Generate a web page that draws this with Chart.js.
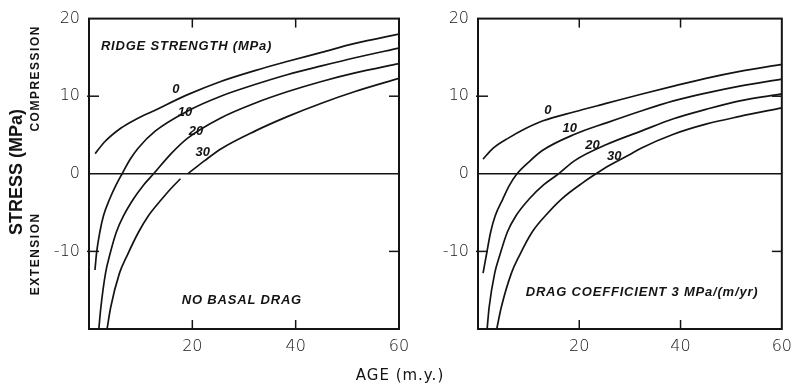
<!DOCTYPE html>
<html>
<head>
<meta charset="utf-8">
<script src="https://cdn.jsdelivr.net/npm/chart.js@4.4.0/dist/chart.umd.min.js"></script>
<style>
  body { margin: 0; background: #fff; }
  #wrap { position: relative; width: 800px; height: 386px; }
  #wrap canvas { position: absolute; left: 0; top: 0; }
</style>
</head>
<body>
<div id="wrap">
  <canvas id="noDrag" width="800" height="386"></canvas>
  <canvas id="withDrag" width="800" height="386"></canvas>
</div>
<script>
// ridge strength of each curve (MPa)
const ridgeStrengths = ["0", "10", "20", "30"];

// axis ticks
const ageTicks = [0, 20, 40, 60];
const stressTicks = [-20, -10, 0, 10, 20];
const innerAgeTicks = [20, 40];
const innerStressTicks = [-10, 10];

// left panel: no basal drag  (age in m.y., stress in MPa)
const noDragAge0 = [1.2, 3, 6.2, 9, 12.8, 19.1, 25.5, 32.1, 38.5, 45, 51.5, 60];
const noDragStress0 = [2.6, 4.1, 5.9, 7.0, 8.2, 10.2, 11.9, 13.3, 14.5, 15.65, 16.8, 18.0];
const noDragAge10 = [1.15, 1.5, 2.1, 2.8, 4.0, 5.2, 6.4, 8, 9.5, 12.8, 19.1, 25.5, 32.1, 38.5, 45, 51.5, 60];
const noDragStress10 = [-12.4, -10, -7.5, -5.4, -3.25, -1.5, 0, 1.9, 3.3, 5.5, 8.1, 10.0, 11.5, 12.8, 13.9, 14.95, 16.2];
const noDragAge20 = [1.9, 2.3, 3.2, 4.0, 5.3, 6.7, 8.6, 10.5, 12.5, 15.9, 19.1, 25.5, 32.1, 38.5, 45, 51.5, 60];
const noDragStress20 = [-20, -17.2, -12.8, -10.5, -7.5, -5.4, -3.25, -1.5, 0, 2.6, 4.6, 7.2, 9.1, 10.6, 11.9, 13.0, 14.2];
const noDragAge30 = [3.5, 4.2, 5.9, 7.4, 9.6, 11.5, 14.1, 16, 17.7, 18.4, 19.1, 22.4, 25.5, 32.1, 38.5, 45, 51.5, 60];
const noDragStress30 = [-20, -17.2, -12.8, -10.5, -7.5, -5.4, -3.25, -1.8, -0.64, null, 0, 1.7, 3.2, 5.5, 7.4, 9.1, 10.6, 12.3];

// right panel: drag coefficient 3 MPa/(m/yr)
const withDragAge0 = [1, 3, 6, 9.3, 12.7, 19.1, 25.5, 32.2, 38.6, 45, 51.7, 60];
const withDragStress0 = [1.9, 3.3, 4.6, 5.8, 6.8, 8.0, 9.1, 10.25, 11.3, 12.3, 13.2, 14.1];
const withDragAge10 = [1.0, 1.7, 2.5, 3.4, 4.9, 6.2, 7.7, 10, 12.7, 19.1, 25.5, 32.2, 38.6, 45, 51.7, 60];
const withDragStress10 = [-12.8, -10.3, -7.5, -5.4, -3.25, -1.5, 0, 1.5, 3.0, 5.1, 6.6, 8.1, 9.4, 10.4, 11.3, 12.2];
const withDragAge20 = [1.8, 2.2, 3.3, 4.3, 5.8, 7.5, 10.1, 13, 15.9, 19.1, 25.5, 32.2, 38.6, 45, 51.7, 60];
const withDragStress20 = [-20, -17.2, -12.8, -10.5, -7.5, -5.4, -3.25, -1.4, 0, 1.7, 3.8, 5.5, 7.1, 8.3, 9.4, 10.3];
const withDragAge30 = [3.7, 4.6, 6.6, 8.2, 10.7, 13.3, 16.5, 20.8, 23.3, 26, 30, 32.2, 38.6, 45, 51.7, 60];
const withDragStress30 = [-20, -17.2, -12.8, -10.5, -7.5, -5.4, -3.25, -1.1, 0, 1.1, 2.5, 3.3, 5.1, 6.4, 7.4, 8.5];

const ink = "#141414";
const tickFont = { family: "'DejaVu Sans', sans-serif", size: 16, weight: "200" };

function curve(ages, stresses) {
  return {
    data: ages.map((a, i) => ({ x: a, y: stresses[i] })),
    borderColor: ink,
    borderWidth: 1.7,
    pointRadius: 0,
    fill: false,
    spanGaps: false,
    cubicInterpolationMode: "monotone",
  };
}

function line(ctx, x1, y1, x2, y2) {
  ctx.beginPath();
  ctx.moveTo(x1, y1);
  ctx.lineTo(x2, y2);
  ctx.stroke();
}

function rotatedText(ctx, text, cx, cy) {
  ctx.save();
  ctx.translate(cx, cy);
  ctx.rotate(-Math.PI / 2);
  ctx.fillText(text, 0, 0);
  ctx.restore();
}

// frame, zero line, inward ticks and the lettering
const panelDecor = {
  id: "panelDecor",
  afterDraw(chart, args, opts) {
    const { ctx, chartArea: a, scales: { x, y } } = chart;
    ctx.save();
    ctx.strokeStyle = ink;
    ctx.fillStyle = ink;

    ctx.lineWidth = 2;
    ctx.strokeRect(a.left, a.top, a.right - a.left, a.bottom - a.top);

    ctx.lineWidth = 1.5;
    const y0 = y.getPixelForValue(0);
    line(ctx, a.left, y0, a.right, y0);

    innerAgeTicks.forEach((v) => {
      const px = x.getPixelForValue(v);
      line(ctx, px, a.top, px, a.top + 9);
      line(ctx, px, a.bottom, px, a.bottom - 9);
    });
    innerStressTicks.forEach((v) => {
      const py = y.getPixelForValue(v);
      line(ctx, a.left - 2, py, a.left + 10, py);
      line(ctx, a.right, py, a.right - 10, py);
    });

    ctx.textBaseline = "middle";
    ctx.font = "italic bold 13px 'Liberation Sans', sans-serif";
    ctx.textAlign = "center";
    opts.curveLabels.forEach((p, i) => {
      ctx.fillText(ridgeStrengths[i], x.getPixelForValue(p[0]), y.getPixelForValue(p[1]));
    });

    ctx.letterSpacing = "0.8px";
    opts.notes.forEach((n) => {
      ctx.textAlign = n.align;
      ctx.fillText(n.text, x.getPixelForValue(n.at[0]), y.getPixelForValue(n.at[1]));
    });

    if (opts.axisTitles) {
      ctx.textAlign = "center";
      ctx.letterSpacing = "0px";
      ctx.font = "bold 18px 'Liberation Sans', sans-serif";
      rotatedText(ctx, "STRESS (MPa)", 17, 172);
      ctx.letterSpacing = "1.5px";
      ctx.font = "bold 12px 'Liberation Sans', sans-serif";
      rotatedText(ctx, "COMPRESSION", 36, y.getPixelForValue(12.3));
      rotatedText(ctx, "EXTENSION", 36, y.getPixelForValue(-10.3));
      ctx.letterSpacing = "1px";
      ctx.font = "15px 'DejaVu Sans', sans-serif";
      ctx.fillText("AGE (m.y.)", 400, 376);
    }
    ctx.restore();
  },
};

function panelOptions(padLeft, padRight, yWidth, decor) {
  return {
    responsive: false,
    animation: false,
    devicePixelRatio: 1,
    layout: { padding: { left: padLeft, right: padRight, top: 17, bottom: 0 } },
    plugins: {
      legend: { display: false },
      tooltip: { enabled: false },
      panelDecor: decor,
    },
    scales: {
      x: {
        type: "linear",
        min: 0,
        max: 60,
        afterBuildTicks: (s) => { s.ticks = ageTicks.map((v) => ({ value: v })); },
        afterFit: (s) => { s.height = 57; },
        grid: { display: false, drawTicks: false },
        border: { display: false },
        ticks: {
          color: ink, font: tickFont, padding: 8, maxRotation: 0, autoSkip: false,
          callback: (v) => (v === 0 ? "" : v),
        },
      },
      y: {
        type: "linear",
        min: -20,
        max: 20,
        afterBuildTicks: (s) => { s.ticks = stressTicks.map((v) => ({ value: v })); },
        afterFit: (s) => { s.width = yWidth; },
        grid: { display: false, drawTicks: false },
        border: { display: false },
        ticks: {
          color: ink, font: tickFont, padding: 9, autoSkip: false,
          callback: (v) => (v === -20 ? "" : v),
        },
      },
    },
  };
}

new Chart(document.getElementById("noDrag"), {
  type: "line",
  data: {
    datasets: [
      curve(noDragAge0, noDragStress0),
      curve(noDragAge10, noDragStress10),
      curve(noDragAge20, noDragStress20),
      curve(noDragAge30, noDragStress30),
    ],
  },
  options: panelOptions(0, 401, 89, {
    axisTitles: true,
    curveLabels: [[16.8, 10.9], [18.6, 7.9], [20.7, 5.5], [22.0, 2.8]],
    notes: [
      { text: "RIDGE STRENGTH (MPa)", at: [2.3, 16.4], align: "left" },
      { text: "NO BASAL DRAG", at: [29.6, -16.3], align: "center" },
    ],
  }),
  plugins: [panelDecor],
});

new Chart(document.getElementById("withDrag"), {
  type: "line",
  data: {
    datasets: [
      curve(withDragAge0, withDragStress0),
      curve(withDragAge10, withDragStress10),
      curve(withDragAge20, withDragStress20),
      curve(withDragAge30, withDragStress30),
    ],
  },
  options: panelOptions(400, 14, 78, {
    axisTitles: false,
    curveLabels: [[13.8, 8.2], [18.1, 5.8], [22.6, 3.7], [26.9, 2.2]],
    notes: [
      { text: "DRAG COEFFICIENT 3 MPa/(m/yr)", at: [32.4, -15.3], align: "center" },
    ],
  }),
  plugins: [panelDecor],
});
</script>
</body>
</html>
